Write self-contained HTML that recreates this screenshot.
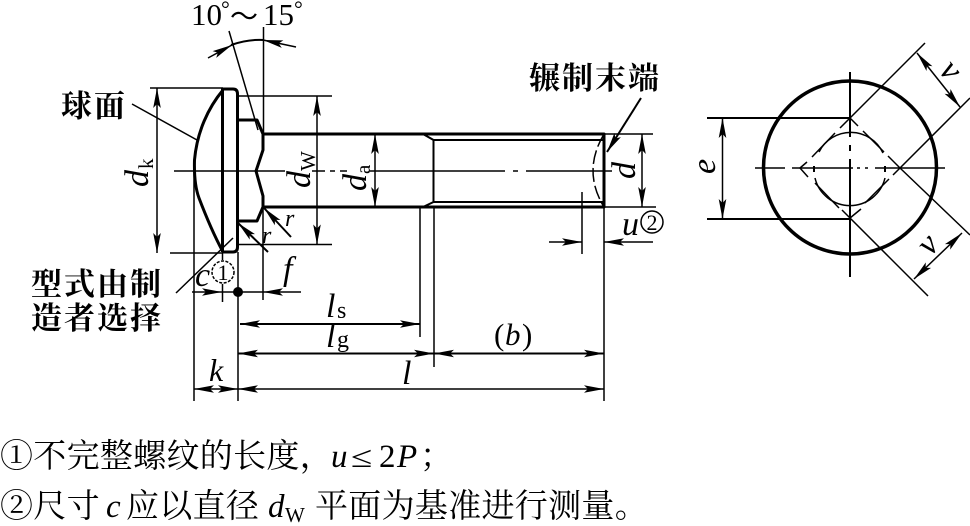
<!DOCTYPE html>
<html><head><meta charset="utf-8"><style>
html,body{margin:0;padding:0;background:#fff;width:970px;height:526px;overflow:hidden}
svg{display:block}
.t{stroke:#000;stroke-width:1.5;fill:none}
.k{stroke:#000;stroke-width:3;fill:none;stroke-linejoin:round}
.m{stroke:#000;stroke-width:2;fill:none}
.i{font-family:"Liberation Serif",serif;font-style:italic;fill:#000}
.r{font-family:"Liberation Serif",serif;fill:#000}
.c{font-family:"Liberation Serif","Noto Serif CJK SC",serif;font-weight:700;fill:#000;font-size:31px;letter-spacing:2px}
.s{font-family:"Liberation Serif","Noto Serif CJK SC",serif;fill:#000;font-size:33px;letter-spacing:0.300px}
</style></head><body>
<svg width="970" height="526" viewBox="0 0 970 526" xmlns="http://www.w3.org/2000/svg">
<defs>
<marker id="a" markerUnits="userSpaceOnUse" markerWidth="24" markerHeight="12" refX="22" refY="6" orient="auto-start-reverse">
<path d="M22 6L2 2.200L6 6L2 9.800Z" fill="#000"/></marker>
</defs>

<!-- bolt outline -->
<path class="k" d="M223 90C208 108 197 132 194.500 160C194 178 196 190 199 198C207 219 215 237 222.500 251"/>
<path class="k" d="M222.500 252V89H233Q237.500 89 237.500 94V247Q237.500 252 233 252H222.500"/>
<path class="k" d="M238 120H257L263 134V150L256 171L263 196V207L257 221H238"/>
<path class="k" d="M263 134H604V207H263"/>
<path class="m" d="M423 134L433.500 140V202L423 207M433.500 140H604M433.500 202H604"/>

<!-- centre lines -->
<path class="t" d="M174 171H285M312 171H325M330 171H335M340 171H347M370 171H505M513 171H518M526 171H612"/>
<path class="t" stroke-dasharray="14 4" d="M604 134Q582 171 604 207"/>

<!-- extension lines -->
<path class="t" d="M150 88H223M237 96H332M237 244.500H332M170 253H222M604 134H653M604 207H656"/>
<path class="t" d="M263.500 27V134M229 31L258 130M263 207V300M194 165V401M238 252V401M222.500 252V260M222.500 284V302M420 207V337M434 207V367M604 207V401M582 192V254"/>
<path class="t" d="M176 293L233 238M132 104L197 140"/>

<!-- dimensions -->
<path class="t" marker-start="url(#a)" marker-end="url(#a)" d="M157 88V253"/>
<path class="t" marker-start="url(#a)" marker-end="url(#a)" d="M317 96V244.500"/>
<path class="t" marker-start="url(#a)" marker-end="url(#a)" d="M375 134V207"/>
<path class="t" marker-start="url(#a)" marker-end="url(#a)" d="M642 134V207"/>
<path class="t" marker-end="url(#a)" d="M192 292H222"/>
<path class="t" marker-start="url(#a)" d="M263 292H301"/>
<path class="t" d="M222 292H263"/>
<circle cx="238" cy="292" r="5" fill="#000"/>
<path class="t" marker-end="url(#a)" d="M549 242H582"/>
<path class="t" marker-start="url(#a)" d="M604 242H653"/>
<path class="m" marker-start="url(#a)" marker-end="url(#a)" d="M240 324H420"/>
<path class="m" marker-start="url(#a)" marker-end="url(#a)" d="M238 353.500H434"/>
<path class="m" marker-start="url(#a)" marker-end="url(#a)" d="M434 353.500H604"/>
<path class="t" marker-start="url(#a)" marker-end="url(#a)" d="M238 389H604"/>
<path class="t" marker-start="url(#a)" marker-end="url(#a)" d="M194 389H238"/>
<path class="m" marker-end="url(#a)" d="M641 98L607 152"/>
<path class="m" marker-start="url(#a)" d="M264 208L291 237"/>
<path class="m" marker-start="url(#a)" d="M238 223L268 252"/>
<path class="m" d="M231 45Q248 39 264 40"/>
<path class="t" marker-end="url(#a)" d="M208 58L232 45"/>
<path class="t" marker-end="url(#a)" d="M296 47L263 40"/>

<!-- end view -->
<circle cx="850" cy="167.500" r="86.500" stroke="#000" stroke-width="3.500" fill="none"/>
<path class="m" d="M850 72V137M850 145V151M850 159V277"/>
<path class="t" d="M755 168H785M792 168H853M857 168H860M865 168H868M875 168H945"/>
<path class="m" d="M814 166V172M885 166V172"/>
<path class="t" d="M819 152A35.500 35.500 0 0 1 883 153M815 178A36 36 0 0 0 885 178"/>
<path class="t" d="M840 128L925 43M893 175L970 98M900 168L970 235M842 210L850 218L928 296M850 118L858 126M850 218L861 209M800 168L808 177M800 168L807 162M812 157L835 133M863 131L884 152M888 156L900 168M889 179L865 203M815 183L839 208"/>
<path class="m" d="M707 118H850M707 219H850"/>
<path class="t" marker-start="url(#a)" marker-end="url(#a)" d="M722.500 118V219"/>
<path class="t" marker-start="url(#a)" marker-end="url(#a)" d="M917 53L960 107"/>
<path class="t" marker-start="url(#a)" marker-end="url(#a)" d="M962 233L914 279"/>

<!-- labels -->
<text class="r" x="191" y="25" font-size="31">10</text>
<text class="r" x="221" y="16" font-size="22">°</text>
<text class="r" x="230" y="26" font-size="28">～</text>
<text class="r" x="263" y="25" font-size="31">15</text>
<text class="r" x="294" y="16" font-size="22">°</text>

<text class="c" x="61" y="117">球面</text>
<text class="c" x="529" y="89">辗制末端</text>
<text class="c" x="31" y="295">型式由制</text>
<text class="c" x="31" y="329">造者选择</text>

<text class="i" font-size="34" transform="translate(148 187) rotate(-90)">d</text>
<text class="r" font-size="21" transform="translate(153 169) rotate(-90)">k</text>
<text class="i" font-size="34" transform="translate(310 188) rotate(-90)">d</text>
<text class="r" font-size="21" transform="translate(315 171) rotate(-90)">W</text>
<text class="i" font-size="34" transform="translate(366 191) rotate(-90)">d</text>
<text class="r" font-size="21" transform="translate(370 174) rotate(-90)">a</text>
<text class="i" font-size="34" transform="translate(635 179) rotate(-90)">d</text>
<text class="i" font-size="34" transform="translate(715 174) rotate(-90)">e</text>
<text class="i" font-size="34" transform="translate(938 71) rotate(50)">v</text>
<text class="i" font-size="34" transform="translate(930.500 257) rotate(-48)">v</text>

<text class="i" x="285" y="226" font-size="24">r</text>
<text class="i" x="262" y="243" font-size="24">r</text>
<text class="i" x="195" y="286" font-size="34">c</text>
<circle cx="223" cy="272" r="11" class="t" stroke-width="1" stroke-dasharray="3 1.500"/>
<text class="r" x="223" y="280" font-size="22" text-anchor="middle">1</text>
<text class="i" x="283" y="280" font-size="34">f</text>
<text class="i" x="622" y="235" font-size="34">u</text>
<circle cx="652" cy="222" r="11" class="t" stroke-width="1"/>
<text class="r" x="652" y="230" font-size="22" text-anchor="middle">2</text>
<text class="i" x="326" y="317" font-size="34">l</text>
<text class="r" x="337" y="318" font-size="24">s</text>
<text class="i" x="326" y="347" font-size="34">l</text>
<text class="r" x="337" y="347" font-size="24">g</text>
<text class="r" x="494" y="345" font-size="31">(</text>
<text class="i" x="505" y="345" font-size="31">b</text>
<text class="r" x="522" y="345" font-size="31">)</text>
<text class="i" x="209" y="381" font-size="32">k</text>
<text class="i" x="402" y="384" font-size="34">l</text>

<!-- notes -->
<text class="s" x="0" y="467">①不完整螺纹的长度，</text>
<text class="i" x="331" y="467" font-size="33">u</text>
<text class="r" font-size="30" transform="translate(351 467) scale(1.300 1)">≤</text>
<text class="r" x="379" y="467" font-size="33">2</text>
<text class="i" x="397" y="467" font-size="33">P</text>
<text class="s" x="420" y="467">；</text>
<text class="s" x="0" y="517">②尺寸</text>
<text class="i" x="106" y="517" font-size="33">c</text>
<text class="s" x="126" y="517">应以直径</text>
<text class="i" x="268" y="517" font-size="33">d</text>
<text class="r" x="285" y="522" font-size="21">W</text>
<text class="s" x="315" y="517">平面为基准进行测量。</text>
</svg>
</body></html>
